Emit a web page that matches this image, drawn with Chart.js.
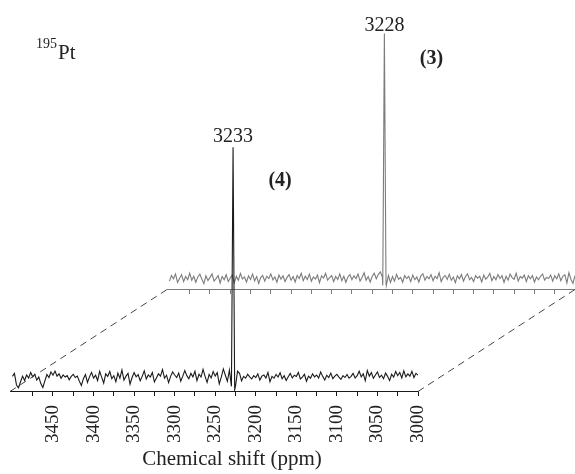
<!DOCTYPE html>
<html>
<head>
<meta charset="utf-8">
<script src="https://cdn.jsdelivr.net/npm/chart.js@4.4.1/dist/chart.umd.min.js"></script>
<style>
  html, body { margin: 0; padding: 0; background: #fff; overflow: hidden; }
  #stage { position: relative; width: 575px; height: 474px; overflow: hidden; }
  #stage canvas { position: absolute; }
  #back { left: 157px; top: -102px; }
  #front { left: 0; top: 0; }
</style>
</head>
<body>
<div id="stage">
  <canvas id="back" width="575" height="474"></canvas>
  <canvas id="front" width="575" height="474"></canvas>
</div>
<script>
// ── Data ─────────────────────────────────────────────
// sampling grid of the spectra (ppm), 3500 → 3000 every 2.5 ppm
const shiftGrid = [];
for (let i = 0; i <= 200; i++) shiftGrid.push(3500 - i * 2.5);

// front spectrum (4), baseline noise
const frontNoise = [
  1.3, 2.6, -2.4, -3.6, -1.0, 1.4, -0.5, 1.9, 0.6, 3.0,
  1.1, 2.2, -0.3, 1.0, -1.8, -3.5, -0.6, 2.1, 0.8, 3.2,
  1.8, 3.6, 1.4, 2.4, 0.5, 1.9, 1.0, 1.6, -0.2, 1.3,
  2.2, 0.8, 1.4, -0.8, -2.6, 0.3, 2.1, -1.3, 1.1, 3.0,
  0.6, 1.8, -0.5, 3.5, 1.0, -1.6, 2.4, 1.3, 3.4, 0.3,
  1.6, -1.0, 2.7, 0.5, 4.0, -0.3, 1.4, 2.6, -2.1, 0.8,
  2.9, 1.1, 2.1, -0.6, 1.3, 3.7, 0.2, 1.9, 1.0, 3.0,
  -1.1, 0.6, 2.4, 1.4, 4.2, 0.5, 1.8, -1.4, 1.3, 3.2,
  1.9, 0.8, 2.7, -0.8, 1.4, 3.8, 1.6, 0.3, 2.6, 1.1,
  3.5, -0.5, 2.2, 1.0, 4.3, 1.3, -1.3, 2.1, 0.6, 3.4,
  1.4, 2.9, -1.9, 1.0, 4.5, 1.8, -0.8, 4.0, 0.0, 0.0,
  -2.9, 3.5, 2.6, -0.6, 1.3, 0.5, 2.2, 1.1, 0.2, 1.6,
  0.8, 2.4, -0.3, 1.4, 1.9, 0.6, 3.0, -1.0, 1.3, 0.5,
  2.1, 1.0, 2.9, 0.3, 1.6, -0.5, 1.1, 2.6, 0.6, 1.8,
  1.3, 3.0, 0.2, 1.0, 2.2, -0.8, 1.4, 0.5, 2.4, 1.1,
  1.9, 0.6, 3.2, 1.3, -0.3, 1.8, 0.8, 2.7, 0.3, 1.4,
  2.2, 1.0, 0.0, 1.6, 0.8, 2.1, 0.5, 1.3, 2.6, 0.6,
  1.6, 3.5, 1.1, 2.4, -0.6, 3.8, 1.4, 2.9, 0.5, 1.9,
  3.2, 0.8, 1.8, 0.3, 2.7, 1.3, -0.5, 2.2, 1.0, 3.4,
  1.6, 3.0, 0.6, 3.7, 1.1, 2.4, 1.4, 3.5, 0.8, 2.6,
  1.8
];
const frontPeakShift = [3230, 3228, 3226];
const frontPeakValue = [-3.0, 100, -4.5];

// back spectrum (3)
const backNoise = [
  -1.6, 0.8, -0.6, 1.5, -2.2, -0.5, 1.2, -1.8, 0.4, -1.0,
  1.8, -1.2, 0.5, -2.1, 0.2, 1.4, -0.8, -2.7, 0.7, -1.4,
  0.0, 1.5, -1.6, -0.5, 0.8, -2.4, 0.4, -1.0, 1.2, -1.8,
  -0.3, 1.0, -2.3, 0.5, -1.2, 1.7, -0.7, 0.2, -2.0, 0.7,
  -0.9, 1.4, -1.5, 0.4, -2.6, -0.1, 0.8, -1.6, 0.5, -0.5,
  1.5, -1.0, 0.2, -2.1, 1.0, -0.7, 0.7, -1.8, 0.0, 1.2,
  -1.2, 0.4, -2.0, 0.8, -0.5, 1.8, -1.4, 0.5, -0.9, 1.4,
  -1.6, 0.2, -0.7, 1.0, -2.3, 0.7, -0.3, 1.7, -1.2, -0.1,
  0.8, -1.8, 0.4, -0.9, 1.5, -1.4, 0.5, -2.1, 0.2, 1.2,
  -1.0, 0.7, -0.5, 1.4, -1.6, 0.0, 2.0, -1.2, 0.4, -2.0,
  0.5, 1.8, -0.6, 1.2, 2.4, 0.2, 0.0, -3.2, 0.8, -2.2,
  0.4, -1.6, 1.3, -0.8, 0.0, -2.1, 0.8, -0.5, 0.5, -1.8,
  1.0, -1.0, 0.2, -2.0, 0.7, 1.6, -1.2, 0.4, -0.6, 1.2,
  -1.4, 0.5, -0.5, 2.0, -1.8, 0.0, 0.8, -0.9, 1.3, -1.2,
  0.2, -2.3, 0.7, -0.6, 1.2, -1.6, 0.4, 1.5, -1.0, 0.0,
  -1.8, 0.8, -0.3, 0.5, -2.0, 1.0, -0.8, 0.2, 1.7, -1.4,
  0.4, -1.0, 1.2, -0.5, 0.7, -2.2, 0.5, -1.2, 1.4, -0.1,
  -0.8, 1.8, -1.6, 0.4, -0.3, 1.0, -1.8, 0.7, -0.6, 0.8,
  -2.0, 0.2, -1.0, 0.5, 1.4, -1.2, 0.0, -0.5, 1.0, -1.6,
  0.7, -0.6, 1.5, -1.4, 0.5, 1.2, -2.4, 2.0, -0.8, -2.6,
  0.8
];
const backPeakShift = [3237, 3235, 3233];
const backPeakValue = [-3.5, 105, -3.0];

const peakLabels = ['3233', '3228'];
const seriesLabels = ['(4)', '(3)'];

// ── Layout constants ─────────────────────────────────
const DX = 157, DY = -102;           // offset of back spectrum
const SERIF = '"Liberation Serif", "DejaVu Serif", serif';
const FRONT_COLOR = '#1a1a1a';
const BACK_COLOR = '#7c7c7c';

function buildSeries(noise, peakShift, peakValue) {
    const lo = Math.min(...peakShift), hi = Math.max(...peakShift);
    const pts = [];
    shiftGrid.forEach((p, i) => {
        if (p < lo || p > hi) pts.push({ x: p, y: noise[i] });
    });
    peakShift.forEach((p, i) => pts.push({ x: p, y: peakValue[i] }));
    return pts.sort((a, b) => b.x - a.x);
}

function makeConfig(data, color, showLabels, plugins) {
    return {
        type: 'line',
        data: {
            datasets: [{
                data: data,
                borderColor: color,
                borderWidth: 1.1,
                pointRadius: 0,
                tension: 0,
                fill: false,
            }],
        },
        options: {
            responsive: false,
            animation: false,
            events: [],
            layout: { padding: { left: 10, right: 157, top: 124, bottom: 22 } },
            plugins: { legend: { display: false }, tooltip: { enabled: false } },
            scales: {
                x: {
                    type: 'linear',
                    reverse: true,
                    min: 3000,
                    max: 3503,
                    afterBuildTicks: s => { s.ticks = s.ticks.filter(t => t.value % 25 === 0); },
                    ticks: {
                        stepSize: 25,
                        autoSkip: false,
                        minRotation: 90,
                        maxRotation: 90,
                        padding: 9,
                        color: showLabels ? '#222' : 'rgba(0,0,0,0)',
                        font: { family: SERIF, size: 19 },
                        callback: v => (v % 50 === 0 && v <= 3450) ? String(v) : '',
                    },
                    grid: { drawOnChartArea: false, drawTicks: true, tickLength: 5, color: color },
                    border: { display: true, color: color, width: 1 },
                },
                y: { display: false, min: -5, max: 110 },
            },
        },
        plugins: plugins,
    };
}

// dashed frame + annotations, drawn on the front chart
const decorations = {
    id: 'decorations',
    afterDraw(chart) {
        const { ctx, scales: { x, y } } = chart;
        const axisY = x.top;
        ctx.save();
        ctx.strokeStyle = '#444';
        ctx.lineWidth = 1;
        ctx.setLineDash([7, 5]);
        [x.left, x.right].forEach(px => {
            ctx.beginPath();
            ctx.moveTo(px, axisY + 0.5);
            ctx.lineTo(px + DX, axisY + DY + 0.5);
            ctx.stroke();
        });
        ctx.setLineDash([]);

        ctx.fillStyle = '#222';
        ctx.textAlign = 'center';
        ctx.textBaseline = 'alphabetic';
        ctx.font = `20px ${SERIF}`;
        const fx = x.getPixelForValue(frontPeakShift[1]);
        const fy = y.getPixelForValue(frontPeakValue[1]);
        ctx.fillText(peakLabels[0], fx, fy - 5);
        const bx = x.getPixelForValue(backPeakShift[1]) + DX;
        const by = y.getPixelForValue(backPeakValue[1]) + DY;
        ctx.fillText(peakLabels[1], bx, by - 3);

        ctx.font = `bold 20px ${SERIF}`;
        ctx.fillText(seriesLabels[0], fx + 47, 186);
        ctx.fillText(seriesLabels[1], bx + 47, 64);

        // nucleus label
        ctx.textAlign = 'left';
        ctx.font = `14px ${SERIF}`;
        ctx.fillText('195', 36, 48);
        ctx.font = `21px ${SERIF}`;
        ctx.fillText('Pt', 58, 59);

        // axis title
        ctx.textAlign = 'center';
        ctx.fillText('Chemical shift (ppm)', 232, 465);
        ctx.restore();
    },
};

new Chart(document.getElementById('back'),
    makeConfig(buildSeries(backNoise, backPeakShift, backPeakValue), BACK_COLOR, false, []));
new Chart(document.getElementById('front'),
    makeConfig(buildSeries(frontNoise, frontPeakShift, frontPeakValue), FRONT_COLOR, true, [decorations]));
</script>
</body>
</html>
